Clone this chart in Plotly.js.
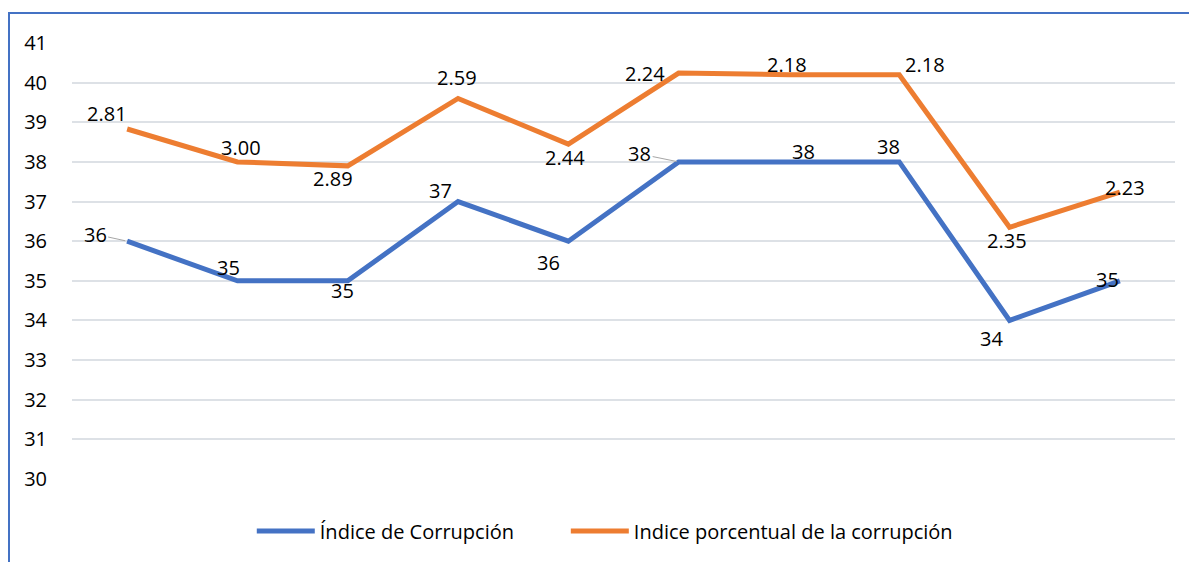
<!DOCTYPE html>
<html><head><meta charset="utf-8">
<script src="https://cdn.plot.ly/plotly-3.0.1.min.js"></script>
<style>
html,body{margin:0;padding:0;background:#fff;}
#wrap{position:relative;width:1189px;height:562px;overflow:hidden;}
#frame{position:absolute;left:8px;top:12px;width:1300px;height:700px;border-left:2px solid #4472C4;border-top:2px solid #4472C4;}
#chart{position:absolute;left:0;top:0;width:1189px;height:562px;}
</style></head>
<body><div id="wrap"><div id="frame"></div><div id="chart"></div></div>
<script>
// data
const categories = ['P1','P2','P3','P4','P5','P6','P7','P8','P9','P10'];
const indiceCorrupcion = [36,35,35,37,36,38,38,38,34,35];
const indicePorcentualPos = [38.83,38.0,37.9,39.6,38.45,40.24,40.2,40.2,36.35,37.24];
const indicePorcentualLabels = ['2.81','3.00','2.89','2.59','2.44','2.24','2.18','2.18','2.35','2.23'];
const yTicks = [30,31,32,33,34,35,36,37,38,39,40,41];

// label offsets (style)
const blueOff = [[-32,-7],[-9,-13],[-5,10],[-18,-11],[-20,21],[-39,-8],[15,-10],[-11,-15],[-18,18],[-12,-1]];
const orangeOff = [[-20,-16],[4,-14],[-15,13],[-1,-21],[-3,13],[-34,0],[-2,-10],[26,-10],[-3,13],[5,-5]];
const leader = [true,false,false,false,false,true,false,false,false,false];

const FONT = '"Open Sans", "Noto Sans", sans-serif';
const FS = 20;
const annotations = [];
categories.forEach((c,i)=>{
  if(leader[i]){
    annotations.push({x:c,y:indiceCorrupcion[i],xref:'x',yref:'y',text:String(indiceCorrupcion[i]),
      showarrow:true,arrowhead:0,arrowwidth:1,arrowcolor:'#A6A6A6',ax:blueOff[i][0],ay:blueOff[i][1],standoff:2,
      font:{family:FONT,size:FS,color:'#000'}});
  } else {
    annotations.push({x:c,y:indiceCorrupcion[i],xref:'x',yref:'y',text:String(indiceCorrupcion[i]),
      showarrow:false,xshift:blueOff[i][0],yshift:-blueOff[i][1],font:{family:FONT,size:FS,color:'#000'}});
  }
  annotations.push({x:c,y:indicePorcentualPos[i],xref:'x',yref:'y',text:indicePorcentualLabels[i],
    showarrow:false,xshift:orangeOff[i][0],yshift:-orangeOff[i][1],font:{family:FONT,size:FS,color:'#000'}});
});

const traces = [
  {x:categories,y:indiceCorrupcion,type:'scatter',mode:'lines',name:'Índice de Corrupción',
   line:{color:'#4472C4',width:5},legend:'legend'},
  {x:categories,y:indicePorcentualPos,type:'scatter',mode:'lines',name:'Indice porcentual de la corrupción',
   line:{color:'#ED7D31',width:5},legend:'legend2'}
];

const legendBase = {orientation:'h',xanchor:'left',y:-0.119,yanchor:'middle',font:{family:FONT,size:FS,color:'#000'},itemwidth:58,bgcolor:'rgba(0,0,0,0)'};

const layout = {
  width:1189,height:562,
  paper_bgcolor:'rgba(0,0,0,0)',plot_bgcolor:'rgba(0,0,0,0)',
  margin:{l:72,r:14,t:43,b:83},
  font:{family:FONT,size:FS,color:'#000'},
  xaxis:{type:'category',range:[-0.5,9.5],showticklabels:false,showgrid:false,zeroline:false,showline:false,ticks:''},
  yaxis:{range:[30,41],tickvals:yTicks,showgrid:true,gridcolor:'#DDE1E6',gridwidth:2,zeroline:false,showline:false,
    ticks:'outside',ticklen:20,tickcolor:'rgba(0,0,0,0)',tickfont:{family:FONT,size:FS,color:'#000'}},
  showlegend:true,
  legend:Object.assign({},legendBase,{x:0.163}),
  legend2:Object.assign({},legendBase,{x:0.4477}),
  annotations:annotations
};
Plotly.newPlot('chart',traces,layout,{displayModeBar:false,staticPlot:true});
</script></body></html>
